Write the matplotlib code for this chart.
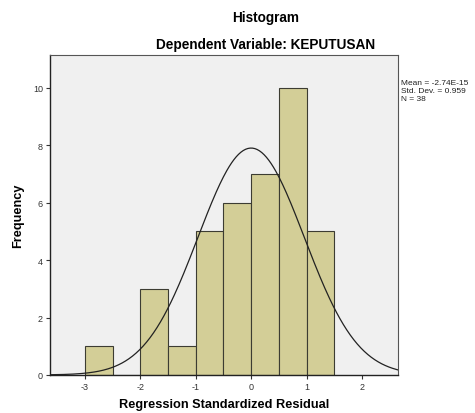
import matplotlib.pyplot as plt
import numpy as np

plt.rcParams["font.family"] = ["Liberation Sans", "DejaVu Sans"]
plt.rcParams["axes.unicode_minus"] = False

# histogram of standardized residuals (bin width 0.5)
bin_left = [-3.0, -2.5, -2.0, -1.5, -1.0, -0.5, 0.0, 0.5, 1.0]
counts = [1, 0, 3, 1, 5, 6, 7, 10, 5]
bin_width = 0.5
mean = -2.74e-15
std = 0.959
n = 38

x_ticks = [-3, -2, -1, 0, 1, 2]
y_ticks = [0, 2, 4, 6, 8, 10]

fig = plt.figure(figsize=(4.75, 4.14), dpi=100)
ax = fig.add_axes([0.105, 0.092, 0.733, 0.773])
ax.set_facecolor("#F0F0F0")

ax.bar(bin_left, counts, width=bin_width, align="edge",
       color="#D3CE97", edgecolor="#3C3C32", linewidth=0.8, zorder=2)

xs = np.linspace(-3.63, 2.65, 300)
curve = n * bin_width / (std * np.sqrt(2 * np.pi)) * np.exp(-0.5 * ((xs - mean) / std) ** 2)
ax.plot(xs, curve, color="#222222", linewidth=0.9, zorder=3)

ax.set_xlim(-3.63, 2.65)
ax.set_ylim(0, 11.15)
ax.set_xticks(x_ticks)
ax.set_yticks(y_ticks)
ax.tick_params(labelsize=6.5, colors="#333333", length=3, width=0.8, pad=2)

for s in ["left", "bottom"]:
    ax.spines[s].set_color("#222222")
    ax.spines[s].set_linewidth(1.0)
for s in ["top", "right"]:
    ax.spines[s].set_color("#555555")
    ax.spines[s].set_linewidth(0.8)

ax.set_xlabel("Regression Standardized Residual", fontsize=9.2, fontweight="bold", labelpad=5)
ax.set_ylabel("Frequency", fontsize=9.2, fontweight="bold", labelpad=6)

fig.text(0.56, 0.957, "Histogram", ha="center", va="center", fontsize=9.8, fontweight="bold")
fig.text(0.56, 0.892, "Dependent Variable: KEPUTUSAN", ha="center", va="center",
         fontsize=9.8, fontweight="bold")

stats = [f"Mean = {mean:.2E}", f"Std. Dev. = {std}", f"N = {n}"]
for i, line in enumerate(stats):
    fig.text(0.845, 0.798 - i * 0.019, line, fontsize=6.0, va="center", color="#222222")

fig.savefig("out.png", dpi=100)
